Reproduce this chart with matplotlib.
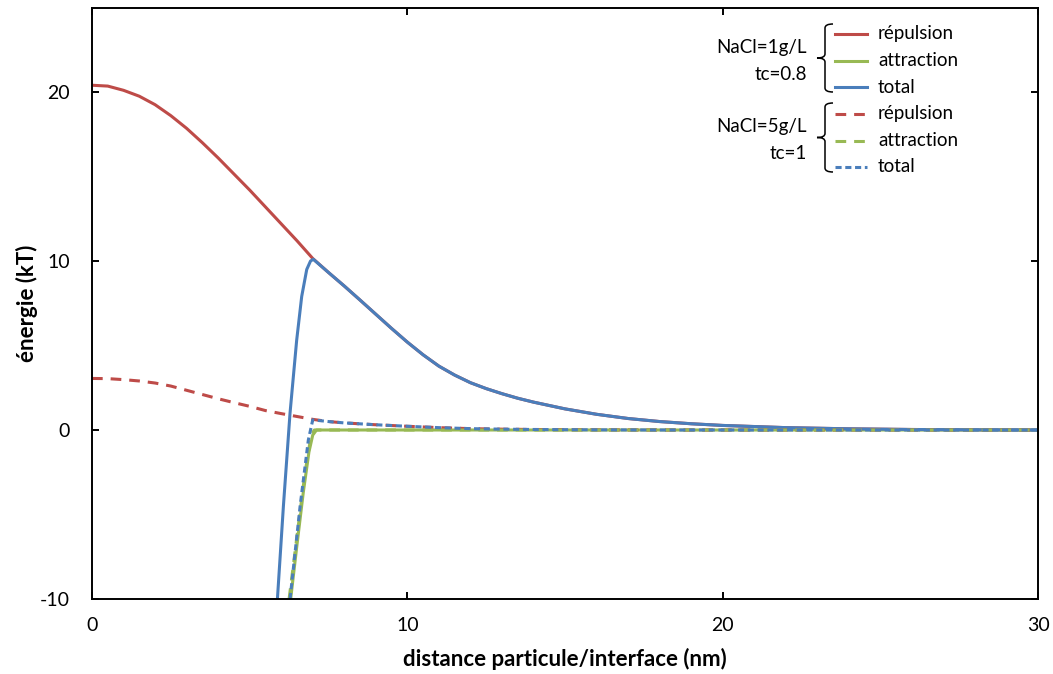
import matplotlib.pyplot as plt
from matplotlib.lines import Line2D
from matplotlib.path import Path
from matplotlib.patches import PathPatch

plt.rcParams['font.family'] = ['Lato', 'DejaVu Sans']
plt.rcParams['axes.unicode_minus'] = False

#%% data
# NaCl=1g/L, tc=0.8
rep1X = [0, 0.5, 1, 1.5, 2, 2.5, 3, 3.5, 4, 4.5, 5, 5.5, 6, 6.5, 7, 7.5, 8, 8.5, 9, 9.5,
         10, 10.5, 11, 11.5, 12, 12.5, 13, 13.5, 14, 15, 16, 17, 18, 19, 20, 22, 24, 26, 28, 30]
rep1Y = [20.4, 20.35, 20.1, 19.75, 19.25, 18.6, 17.85, 17.0, 16.1, 15.15, 14.2, 13.2, 12.2, 11.2,
         10.15, 9.32, 8.52, 7.69, 6.85, 6.01, 5.2, 4.45, 3.78, 3.25, 2.8, 2.45, 2.15, 1.88, 1.65,
         1.25, 0.93, 0.68, 0.5, 0.37, 0.27, 0.14, 0.07, 0.03, 0.01, 0.0]

att1X = [6.3, 6.5, 6.7, 6.88, 7.0, 7.12, 8, 10, 15, 20, 25, 30]
att1Y = [-10, -6.8, -3.7, -1.3, -0.3, 0, 0, 0, 0, 0, 0, 0]

tot1X = [5.88, 6.07, 6.28, 6.49, 6.65, 6.81, 6.93, 7.02, 7.5, 8, 8.5, 9, 9.5,
         10, 10.5, 11, 11.5, 12, 12.5, 13, 13.5, 14, 15, 16, 17, 18, 19, 20, 22, 24, 26, 28, 30]
tot1Y = [-10, -4.5, 1.0, 5.3, 7.9, 9.5, 10.0, 10.1, 9.32, 8.52, 7.69, 6.85, 6.01,
         5.2, 4.45, 3.78, 3.25, 2.8, 2.45, 2.15, 1.88, 1.65, 1.25, 0.93, 0.68, 0.5, 0.37,
         0.27, 0.14, 0.07, 0.03, 0.01, 0.0]

# NaCl=5g/L, tc=1
rep2X = [0, 0.5, 1, 1.5, 2, 2.5, 3, 3.5, 4, 4.5, 5, 5.5, 6, 6.5, 7, 7.5, 8, 9, 10,
         11, 12, 13, 14, 16, 18, 20, 25, 30]
rep2Y = [3.05, 3.04, 2.98, 2.9, 2.78, 2.6, 2.35, 2.1, 1.85, 1.62, 1.4, 1.15, 0.97, 0.8,
         0.63, 0.5, 0.42, 0.31, 0.22, 0.14, 0.08, 0.05, 0.03, 0.01, 0, 0, 0, 0]

att2X = [6.25, 6.5, 6.75, 6.95, 7.05, 8, 10, 15, 20, 25, 30]
att2Y = [-10, -6.3, -2.6, -0.3, 0, 0, 0, 0, 0, 0, 0]

tot2X = [6.28, 6.6, 6.86, 7.0, 7.5, 8, 9, 10, 11, 12, 13, 14, 16, 18, 20, 25, 30]
tot2Y = [-10, -4.5, -0.6, 0.6, 0.5, 0.42, 0.31, 0.22, 0.14, 0.08, 0.05, 0.03, 0.01,
         0, 0, 0, 0]

legendLabels = ['répulsion', 'attraction', 'total']
groupLabels = [('NaCl=1g/L', 'tc=0.8'), ('NaCl=5g/L', 'tc=1')]

red = '#BE4B48'
green = '#98B954'
blue = '#4A7EBB'
lw = 2.2
dashRed = (0, (3.5, 2.6))
dashBlue = (0, (2.0, 1.2))

#%% figure
W, H = 1053, 674
fig = plt.figure(figsize=(W / 100, H / 100), dpi=100)
ax = fig.add_axes([92 / W, 1 - 599 / H, 946 / W, 591.5 / H])

ax.plot(rep1X, rep1Y, '-', color=red, lw=lw)
ax.plot(att1X, att1Y, '-', color=green, lw=lw)
ax.plot(tot1X, tot1Y, '-', color=blue, lw=lw)
ax.plot(rep2X, rep2Y, color=red, lw=lw, linestyle=dashRed)
ax.plot(att2X, att2Y, color=green, lw=lw, linestyle=dashRed)
ax.plot(tot2X, tot2Y, color=blue, lw=lw, linestyle=dashBlue)

ax.set_xlim([0, 30])
ax.set_ylim([-10, 25])
ax.set_xticks([0, 10, 20, 30])
ax.set_yticks([-10, 0, 10, 20])

for s in ax.spines.values():
    s.set_linewidth(1.4)
    s.set_color('black')
ax.tick_params(direction='in', length=5, width=1.4, top=True, right=True,
               labelsize=14, colors='black')
ax.tick_params(axis='x', pad=13)
ax.tick_params(axis='y', pad=16)

ax.set_xlabel('distance particule/interface (nm)', fontsize=16, fontweight='bold', va='center')
ax.set_ylabel('énergie (kT)', fontsize=16, fontweight='bold', va='center')
ax.xaxis.set_label_coords(0.5, -0.1014)
ax.yaxis.set_label_coords(-0.0687, 0.5)

#%% legend (drawn by hand, in pixel coords of the figure)
def fx(px):
    return px / W

def fy(py):
    return 1 - py / H

rowY = [34, 60.7, 87.3, 114, 140.7, 166.7]
colors = [red, green, blue]
styles = ['-', '-', '-', dashRed, dashRed, dashBlue]
for i in range(6):
    fig.add_artist(Line2D([fx(835), fx(867)], [fy(rowY[i]), fy(rowY[i])],
                          color=colors[i % 3], lw=lw, linestyle=styles[i]))
    fig.text(fx(878), fy(rowY[i]), legendLabels[i % 3], fontsize=13.5,
             va='center', ha='left')

groupY = [(48, 75), (126.7, 153.3)]
for g in range(2):
    fig.text(fx(807), fy(groupY[g][0]), groupLabels[g][0], fontsize=13.5, va='center', ha='right')
    fig.text(fx(807), fy(groupY[g][1]), groupLabels[g][1], fontsize=13.5, va='center', ha='right')

def brace(x, y0, y1):
    ym = (y0 + y1) / 2
    w = 8
    r = 4
    pts = [(x + w, y0), (x, y0), (x, y0 + r),
           (x, ym - r), (x, ym), (x - w, ym),
           (x, ym), (x, ym + r),
           (x, y1 - r), (x, y1), (x + w, y1)]
    codes = [Path.MOVETO, Path.CURVE3, Path.CURVE3,
             Path.LINETO, Path.CURVE3, Path.CURVE3,
             Path.CURVE3, Path.CURVE3,
             Path.LINETO, Path.CURVE3, Path.CURVE3]
    pts = [(fx(p[0]), fy(p[1])) for p in pts]
    fig.add_artist(PathPatch(Path(pts, codes), fill=False, lw=1.1,
                             edgecolor='black', transform=fig.transFigure))

brace(825, 24, 92)
brace(825, 103, 172)

fig.savefig('out.png', dpi=100)
